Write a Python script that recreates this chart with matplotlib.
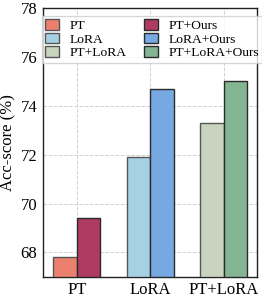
import matplotlib
matplotlib.use("Agg")
import matplotlib.pyplot as plt
import numpy as np

categories = ["PT", "LoRA", "PT+LoRA"]
base_labels = ["PT", "LoRA", "PT+LoRA"]
ours_labels = ["PT+Ours", "LoRA+Ours", "PT+LoRA+Ours"]
base_values = [67.8, 71.9, 73.3]
ours_values = [69.4, 74.7, 75.0]
base_colors = ["#EC806F", "#A6D1E5", "#C8D4BE"]
ours_colors = ["#B03B62", "#76A8E2", "#84B592"]

plt.rcParams["font.family"] = ["Liberation Serif", "DejaVu Serif"]

fig = plt.figure(figsize=(2.62, 3.02), dpi=100)
ax = fig.add_axes([0.164, 0.083, 0.817, 0.891])

x = np.arange(len(categories))
w = 0.32
handles = []
for i in range(len(categories)):
    b1 = ax.bar(x[i] - w / 2, base_values[i] - 67, w, bottom=67,
                color=base_colors[i], edgecolor="#555555", linewidth=1.0,
                label=base_labels[i], zorder=3)
    b2 = ax.bar(x[i] + w / 2, ours_values[i] - 67, w, bottom=67,
                color=ours_colors[i], edgecolor="#2a2a2a", linewidth=1.0,
                label=ours_labels[i], zorder=3)
    handles.append((b1, b2))

ax.set_ylim(67, 78)
ax.set_xlim(-0.46, 2.45)
ax.set_yticks([68, 70, 72, 74, 76, 78])
ax.set_xticks(x)
ax.set_xticklabels(categories)
ax.tick_params(axis="both", labelsize=12, length=0, pad=4)
ax.set_ylabel("Acc-score (%)", fontsize=12, labelpad=3)
ax.grid(True, linestyle="--", color="#d0d0d0", linewidth=0.7, zorder=0)
for s in ax.spines.values():
    s.set_color("#222222")
    s.set_linewidth(1.0)

order = [h[0] for h in handles] + [h[1] for h in handles]
labels = base_labels + ours_labels
ax.legend(order, labels, ncol=2, loc="upper center", fontsize=9.7,
          frameon=True, fancybox=False, edgecolor="#cccccc",
          handlelength=1.0, handleheight=0.8, handletextpad=0.8,
          columnspacing=1.3, labelspacing=0.05, borderpad=0.25,
          borderaxespad=0.6, bbox_to_anchor=(0.51, 1.0))

fig.savefig("out.png", dpi=100)
